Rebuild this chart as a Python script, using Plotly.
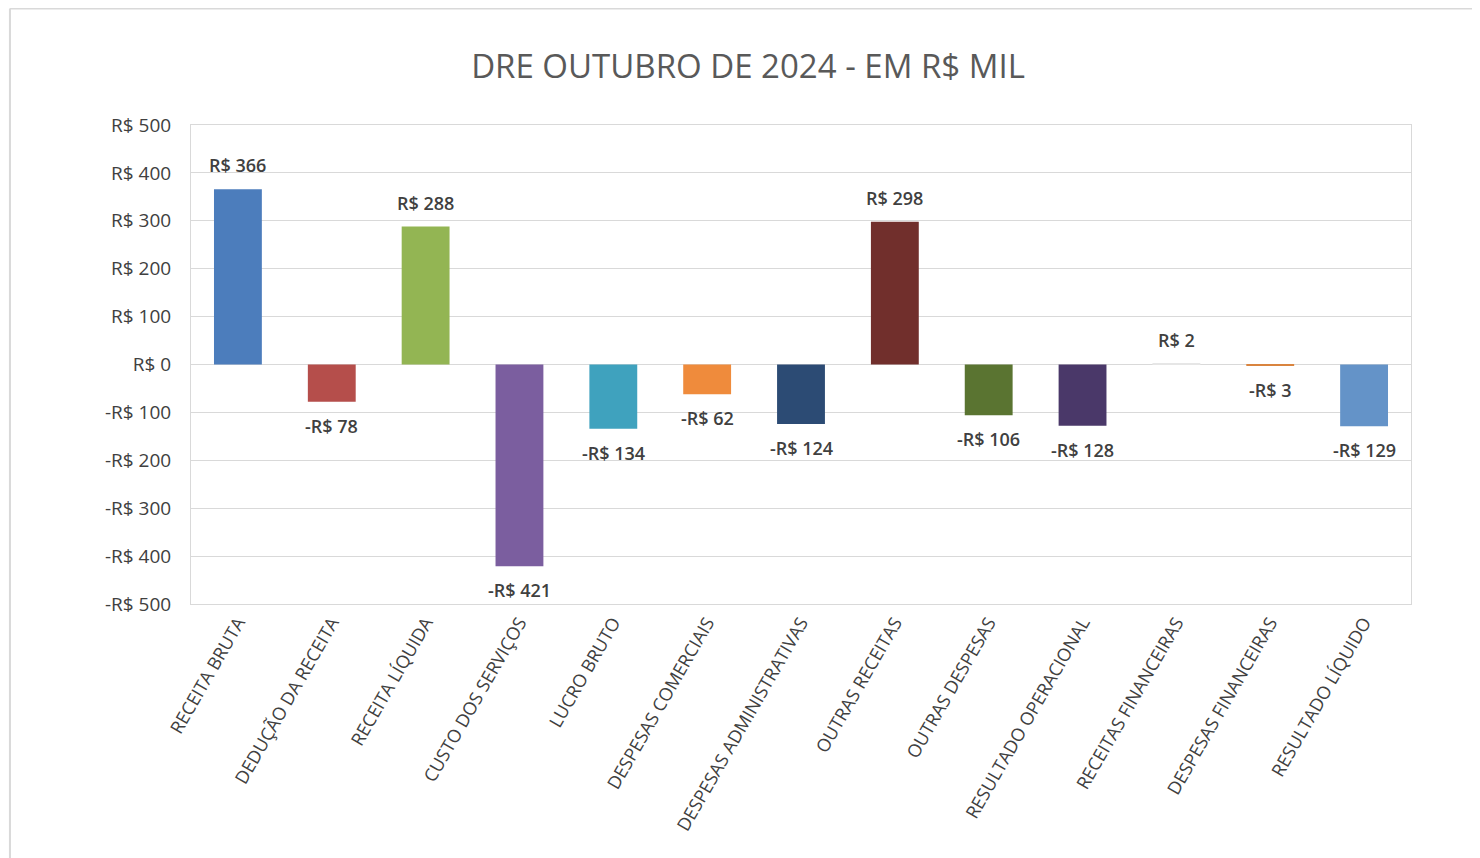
import plotly.graph_objects as go

categories = [
    "RECEITA BRUTA", "DEDUÇÃO DA RECEITA", "RECEITA LÍQUIDA", "CUSTO DOS SERVIÇOS",
    "LUCRO BRUTO", "DESPESAS COMERCIAIS", "DESPESAS ADMINISTRATIVAS", "OUTRAS RECEITAS",
    "OUTRAS DESPESAS", "RESULTADO OPERACIONAL", "RECEITAS FINANCEIRAS",
    "DESPESAS FINANCEIRAS", "RESULTADO LÍQUIDO",
]
values = [366, -78, 288, -421, -134, -62, -124, 298, -106, -128, 2, -3, -129]
bar_colors = [
    "#4c7dbc", "#b54e4b", "#93b553", "#7b5e9f", "#3fa2be", "#ef8b3c", "#2c4b74",
    "#712f2c", "#5a7431", "#4a3869", "#e6e6e6", "#d9843f", "#6493c8",
]
tick_values = [-500, -400, -300, -200, -100, 0, 100, 200, 300, 400, 500]
tick_labels = ["-R$ 500", "-R$ 400", "-R$ 300", "-R$ 200", "-R$ 100", "R$ 0",
               "R$ 100", "R$ 200", "R$ 300", "R$ 400", "R$ 500"]


def fmt(v):
    return ("-R$ " if v < 0 else "R$ ") + str(abs(v))


labels = [fmt(v) for v in values]

fig = go.Figure(
    go.Bar(
        x=categories,
        y=values,
        marker=dict(color=bar_colors, line=dict(width=0)),
        width=0.51,
        hoverinfo="x+y",
    )
)

for cat, v, lab in zip(categories, values, labels):
    fig.add_annotation(
        x=cat, y=v, xref="x", yref="y",
        text=lab, showarrow=False,
        yanchor="middle", yshift=24 if v >= 0 else -24,
        font=dict(family="Open Sans", size=18, color="#404040", weight=600),
    )

fig.update_layout(
    width=1480,
    height=858,
    autosize=False,
    paper_bgcolor="white",
    plot_bgcolor="white",
    margin=dict(l=183, r=77, t=117, b=262),
    title=dict(
        text="DRE OUTUBRO DE 2024 - EM R$ MIL",
        x=0.5, xref="container", xanchor="center",
        y=1 - 58 / 858, yref="container", yanchor="middle",
        font=dict(family="Open Sans", size=33, color="#595959"),
    ),
    showlegend=False,
    font=dict(family="Open Sans", color="#404040"),
)

fig.update_yaxes(
    range=[-500, 500],
    tickvals=tick_values,
    ticktext=tick_labels,
    tickfont=dict(family="Open Sans", size=19, color="#404040"),
    showgrid=True, gridcolor="#d9d9d9", gridwidth=1,
    zeroline=True, zerolinecolor="#d9d9d9", zerolinewidth=1,
    showline=True, linecolor="#d9d9d9", linewidth=1, mirror=True,
    ticks="", ticklabelstandoff=15,
)
fig.update_xaxes(
    tickangle=-60,
    tickfont=dict(family="Open Sans", size=18, color="#404040"),
    showline=True, linecolor="#d9d9d9", linewidth=1, mirror=True,
    ticks="", showgrid=False,
)

# outer chart border (top and left edges visible in the frame)
fig.add_shape(type="line", xref="paper", yref="paper",
              x0=-0.1484, x1=1.08, y0=1.2432, y1=1.2432,
              line=dict(color="#d9d9d9", width=2))
fig.add_shape(type="line", xref="paper", yref="paper",
              x0=-0.1484, x1=-0.1484, y0=-0.6, y1=1.2432,
              line=dict(color="#d9d9d9", width=2))

fig.write_html("out.html")
